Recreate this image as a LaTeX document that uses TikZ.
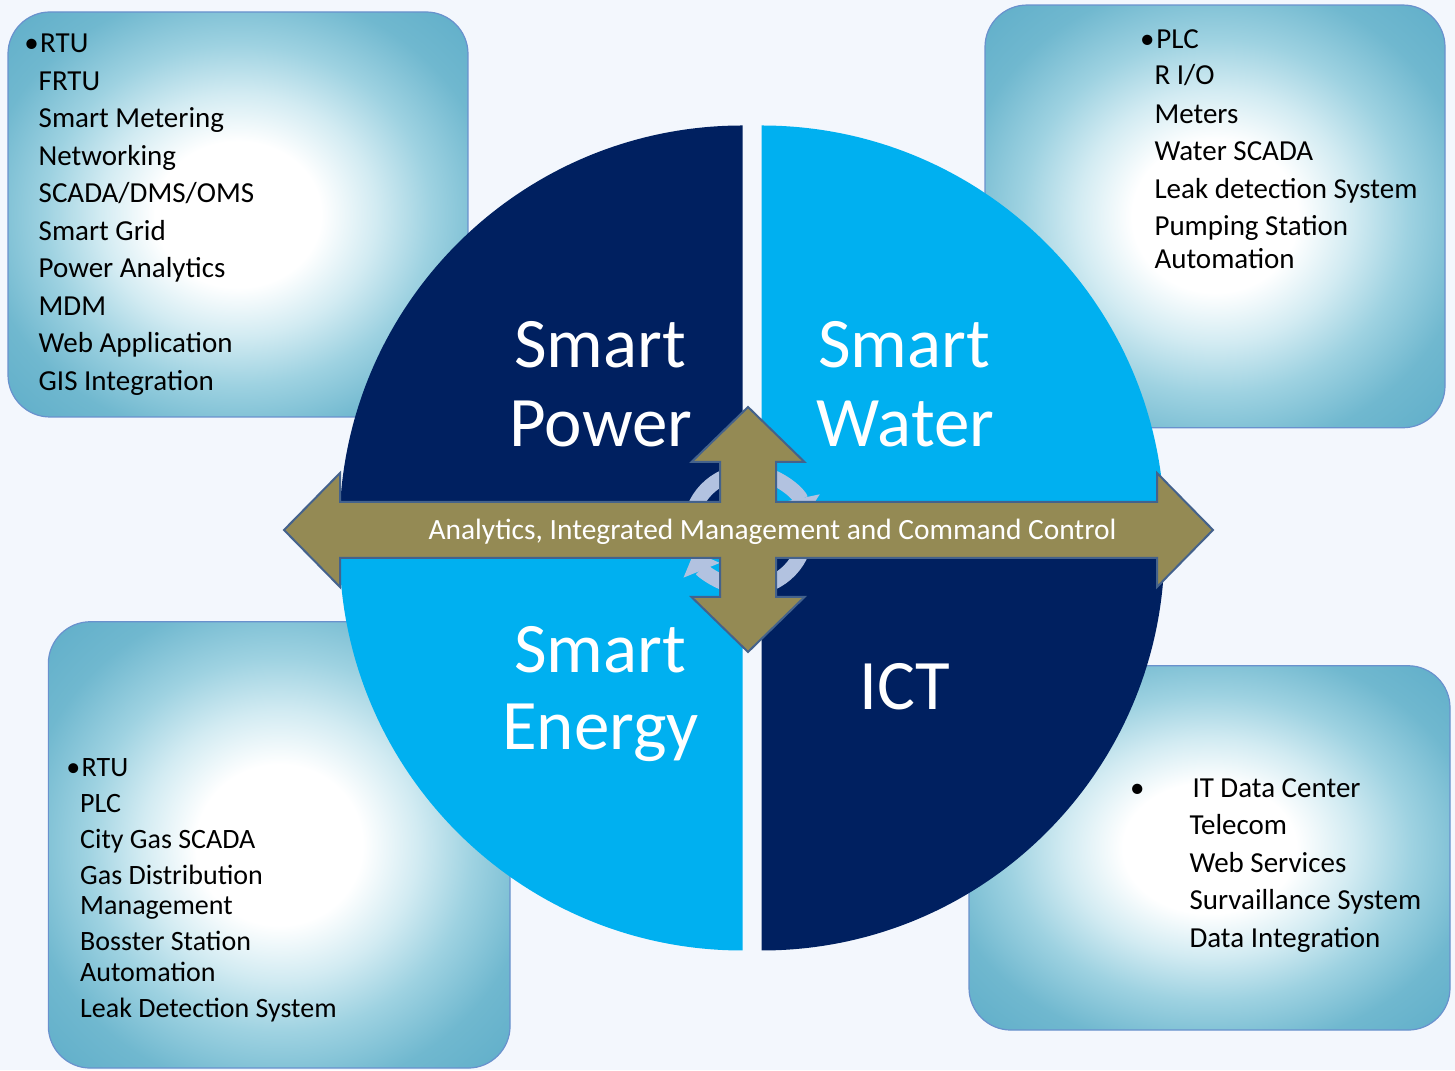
\documentclass[tikz,border=0pt]{standalone}
\usepackage{fontspec}
\setmainfont{Carlito}
\usetikzlibrary{arrows.meta}
\definecolor{bg}{RGB}{243,247,253}
\definecolor{navy}{RGB}{0,32,96}
\definecolor{sky}{RGB}{0,176,240}
\definecolor{olive}{RGB}{148,138,84}
\definecolor{olivebd}{RGB}{68,98,140}
\definecolor{boxline}{RGB}{105,145,205}
\definecolor{tealA}{RGB}{210,235,242}
\definecolor{tealB}{RGB}{158,210,225}
\definecolor{tealC}{RGB}{112,184,207}
\definecolor{tealD}{RGB}{92,172,200}
\definecolor{cyc}{RGB}{178,194,224}
\pgfdeclareradialshading{boxshade}{\pgfpoint{0bp}{0bp}}{color(0bp)=(white); color(9bp)=(white); color(15bp)=(tealA); color(21bp)=(tealB); color(28bp)=(tealC); color(37bp)=(tealD); color(50bp)=(tealD)}
\begin{document}
\begin{tikzpicture}[x=1pt,y=1pt,
  infobox/.style={rectangle, rounded corners=42pt, draw=boxline, line width=1.2pt, shading=boxshade, inner sep=0pt},
  item/.style={anchor=base west, inner sep=0pt, text=black, font=\fontsize{29}{35}\selectfont},
  itemS/.style={item, font=\fontsize{28}{34}\selectfont},
  big/.style={anchor=base, inner sep=0pt, text=white, font=\fontsize{71}{80}\selectfont},
  cycarrow/.style={draw=cyc, line width=15pt, -{Triangle[width=38pt,length=20pt]}},
  cross/.style={fill=olive, draw=olivebd, line width=2pt, line join=miter}]
\useasboundingbox (0,0) rectangle (1455,1070);
\fill[bg] (0,0) rectangle (1455,1070);
% info boxes
\node[infobox, minimum width=460pt, minimum height=405pt] (boxTL) at (238,855.5) {};
\node[infobox, minimum width=460pt, minimum height=422.7pt] (boxTR) at (1215,853.6) {};
\node[infobox, minimum width=461.7pt, minimum height=446.3pt] (boxBL) at (279.2,225.1) {};
\node[infobox, minimum width=481pt, minimum height=364.3pt] (boxBR) at (1209.5,222.1) {};
% quadrants
\fill[navy] (742.5,541.5) -- ++(-403,0) arc[start angle=180,end angle=90,radius=403] -- cycle;
\fill[sky] (761.5,541.5) -- ++(0,403) arc[start angle=90,end angle=0,radius=403] -- cycle;
\fill[sky] (742.5,522.5) -- ++(-403,0) arc[start angle=180,end angle=270,radius=403] -- cycle;
\fill[navy] (761.5,522.5) -- ++(0,-403) arc[start angle=270,end angle=360,radius=403] -- cycle;
% cycle arrows
\draw[cycarrow] (748,540) ++(170:58) arc[start angle=170,end angle=12,radius=58];
\draw[cycarrow] (748,540) ++(-10:58) arc[start angle=-10,end angle=-158,radius=58];
% cross arrow
\draw[cross] (748,663) -- (804.5,608) -- (776,608) -- (776,568) -- (1157,568) -- (1157,597) -- (1213,540) -- (1157,483) -- (1157,512) -- (776,512) -- (776,473) -- (804.5,473) -- (748,418) -- (691.5,473) -- (720,473) -- (720,512) -- (340,512) -- (340,483) -- (284,540) -- (340,597) -- (340,568) -- (720,568) -- (720,608) -- (691.5,608) -- cycle;
\node[anchor=base, inner sep=0pt, text=white, font=\fontsize{29.4}{35}\selectfont] (bartext) at (772.5,530) {Analytics, Integrated Management and Command Control};
% quadrant titles
\node[big] (pw1) at (600,702) {Smart};
\node[big] (pw2) at (601,623) {Power};
\node[big] (wt1) at (904,702) {Smart};
\node[big] (wt2) at (905.5,623) {Water};
\node[big] (en1) at (600,397) {Smart};
\node[big] (en2) at (600.5,320) {Energy};
\node[big] (ict) at (905,360) {ICT};
% top-left list
\foreach \t/\yy [count=\i] in {{\llap{•}\hspace{1.5pt}RTU}/1017.3, FRTU/979.8, {Smart Metering}/942.3, Networking/904.8, {SCADA/DMS/OMS}/867.3, {Smart Grid}/829.8, {Power Analytics}/792.3, MDM/754.8, {Web Application}/717.3, {GIS Integration}/679.8}
  \node[item] (tl\i) at (38.5,\yy) {\t};
% top-right list
\foreach \t/\yy [count=\i] in {{\llap{•}\hspace{2pt}PLC}/1021.7, {R I/O}/985, Meters/946.7, {Water SCADA}/909, {Leak detection System}/871.7, {Pumping Station}/834.3, Automation/801.7}
  \node[item] (tr\i) at (1154.3,\yy) {\t};
% bottom-left list
\foreach \t/\yy [count=\i] in {{\llap{•}\hspace{1.5pt}RTU}/293.3, PLC/257.7, {City Gas SCADA}/221, {Gas Distribution}/185, Management/155, {Bosster Station}/119.3, Automation/88.3, {Leak Detection System}/52.7}
  \node[itemS] (bl\i) at (80,\yy) {\t};
% bottom-right list
\foreach \t/\yy [count=\i] in {{\llap{•\hspace{45pt}}\hspace{3pt}IT Data Center}/272.7, Telecom/235, {Web Services}/197.7, {Survaillance System}/160, {Data Integration}/122.7}
  \node[item] (br\i) at (1189.3,\yy) {\t};
\end{tikzpicture}
\end{document}
